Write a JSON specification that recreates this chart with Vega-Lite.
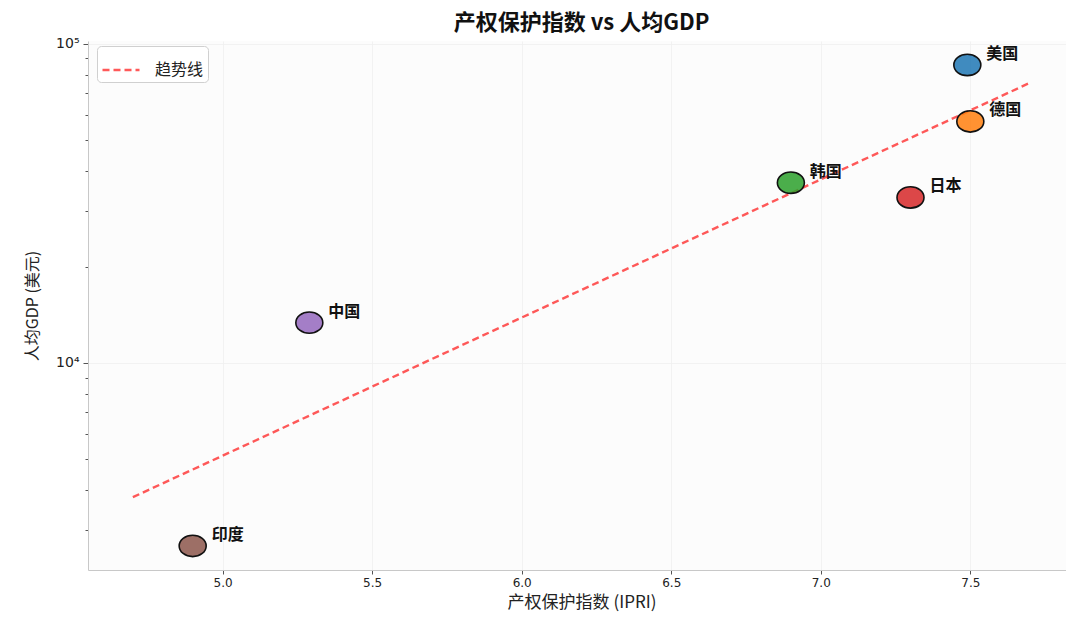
{
  "$schema": "https://vega.github.io/schema/vega-lite/v6.json",
  "autosize": "none",
  "width": 987,
  "height": 529,
  "padding": {"left": 88, "top": 41, "right": 0, "bottom": 51},
  "background": "white",
  "title": {
    "text": "产权保护指数 vs 人均GDP",
    "font": "Noto Sans CJK SC",
    "fontSize": 22,
    "fontWeight": "bold",
    "color": "#111111",
    "anchor": "middle",
    "offset": 2
  },
  "config": {
    "view": {"fill": "#fcfcfc", "stroke": null},
    "axis": {
      "domainColor": "#c8c8c8",
      "tickColor": "#555555",
      "gridColor": "#efefef",
      "gridWidth": 0.8,
      "labelFont": "DejaVu Sans",
      "labelFontSize": 12,
      "labelColor": "#222222",
      "titleFont": "Noto Sans CJK SC",
      "titleFontSize": 17,
      "titleFontWeight": "normal",
      "titleColor": "#222222"
    }
  },
  "datasets": {
    "points": [
      {"country": "美国", "ipri": 7.49, "gdp": 85800},
      {"country": "德国", "ipri": 7.5, "gdp": 57100},
      {"country": "韩国", "ipri": 6.9, "gdp": 36700},
      {"country": "日本", "ipri": 7.3, "gdp": 33000},
      {"country": "中国", "ipri": 5.29, "gdp": 13380},
      {"country": "印度", "ipri": 4.9, "gdp": 2673}
    ],
    "trend": [
      {"series": "趋势线", "ipri": 4.7, "gdp": 3800},
      {"series": "趋势线", "ipri": 7.7, "gdp": 75500}
    ]
  },
  "layer": [
    {
      "data": {"name": "trend"},
      "mark": {"type": "line", "strokeDash": [7, 4], "strokeWidth": 2.4, "opacity": 0.75},
      "encoding": {
        "x": {
          "field": "ipri", "type": "quantitative",
          "scale": {"domain": [4.55, 7.85], "nice": false, "zero": false},
          "axis": {
            "title": "产权保护指数 (IPRI)",
            "values": [5.0, 5.5, 6.0, 6.5, 7.0, 7.5],
            "format": ".1f",
            "tickSize": 4,
            "labelPadding": 3,
            "titlePadding": 6
          }
        },
        "y": {
          "field": "gdp", "type": "quantitative",
          "scale": {"type": "log", "domain": [2247, 102000], "nice": false},
          "axis": {
            "title": "人均GDP (美元)",
            "titleFontSize": 16,
            "labelFontSize": 14,
            "values": [3000, 4000, 5000, 6000, 7000, 8000, 9000, 10000, 20000, 30000, 40000, 50000, 60000, 70000, 80000, 90000, 100000],
            "labelExpr": "datum.value == 10000 ? '10⁴' : (datum.value == 100000 ? '10⁵' : '')",
            "tickSize": {"condition": {"test": "datum.value == 10000 || datum.value == 100000", "value": 5}, "value": 3},
            "gridOpacity": {"condition": {"test": "datum.value == 10000 || datum.value == 100000", "value": 1}, "value": 0},
            "labelPadding": 4,
            "titlePadding": 15
          }
        },
        "stroke": {
          "field": "series", "type": "nominal",
          "scale": {"domain": ["趋势线"], "range": ["#ff2222"]},
          "legend": {
            "title": null,
            "orient": "none",
            "legendX": 9,
            "legendY": 5,
            "symbolType": "stroke",
            "symbolStrokeWidth": 2.4,
            "symbolDash": [7, 4],
            "symbolSize": 1369,
            "symbolOpacity": 0.75,
            "labelFont": "Noto Sans CJK SC",
            "labelFontSize": 16,
            "labelColor": "#222222",
            "labelOffset": 14,
            "strokeColor": "#d0d0d0",
            "fillColor": "white",
            "cornerRadius": 4,
            "padding": 4
          }
        }
      }
    },
    {
      "data": {"name": "points"},
      "mark": {
        "type": "point",
        "filled": true,
        "shape": "M-1,0A1,0.79,0,1,1,1,0A1,0.79,0,1,1,-1,0Z",
        "size": 729,
        "fillOpacity": 0.85,
        "stroke": "#111111",
        "strokeWidth": 1.6,
        "strokeOpacity": 1
      },
      "encoding": {
        "x": {"field": "ipri", "type": "quantitative"},
        "y": {"field": "gdp", "type": "quantitative"},
        "fill": {
          "field": "country", "type": "nominal",
          "scale": {
            "domain": ["美国", "德国", "韩国", "日本", "中国", "印度"],
            "range": ["#1f77b4", "#ff7f0e", "#2ca02c", "#d62728", "#9467bd", "#8c564b"]
          },
          "legend": null
        }
      }
    },
    {
      "data": {"name": "points"},
      "mark": {
        "type": "text",
        "align": "left",
        "baseline": "middle",
        "dx": 19,
        "dy": -11,
        "font": "Noto Sans CJK SC",
        "fontSize": 16,
        "fontWeight": "bold",
        "color": "#111111"
      },
      "encoding": {
        "x": {"field": "ipri", "type": "quantitative"},
        "y": {"field": "gdp", "type": "quantitative"},
        "text": {"field": "country", "type": "nominal"}
      }
    }
  ]
}
